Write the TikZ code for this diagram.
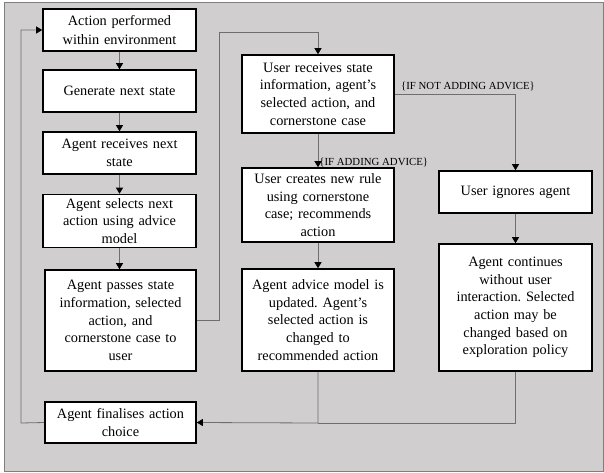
\documentclass[tikz,border=0pt]{standalone}
\usepackage{fontspec}
\setmainfont{Liberation Serif}
\usetikzlibrary{arrows.meta}
\definecolor{bggray}{RGB}{208,206,206}
\definecolor{bgline}{RGB}{127,127,127}
\definecolor{conngray}{RGB}{110,110,110}
\tikzset{
  stepbox/.style={draw=black, line width=1.6pt, fill=white, minimum width=153pt, text width=145pt,
    align=center, inner sep=0pt, font=\fontsize{14.3}{17.7}\selectfont\frenchspacing},
  widebox/.style={stepbox, font=\fontsize{14.3}{19}\selectfont\frenchspacing},
  conn/.style={draw=conngray, line width=0.8pt, -{Triangle[black,length=6pt,width=7pt]}},
  plain/.style={draw=conngray, line width=0.8pt},
  lbl/.style={font=\fontsize{10.8}{12}\selectfont, inner sep=0pt}
}
\begin{document}
\begin{tikzpicture}[x=1pt,y=-1pt]
\useasboundingbox (0,0) rectangle (604,473);
\fill[bggray] (4,3) rectangle (603,471);
\draw[bgline, line width=1pt] (4,3) rectangle (603,471);
% left column
\node[widebox, minimum height=41.5pt] (b1) at (119.5,30) {Action performed\\within environment};
\node[stepbox, minimum height=42pt] (b2) at (119.5,91) {Generate next state};
\node[stepbox, minimum height=42pt] (b3) at (119.5,153) {Agent receives next\\state};
\node[stepbox, minimum height=53pt] (b4) at (119.5,221) {Agent selects next\\action using advice\\model};
\node[stepbox, minimum height=101pt, minimum width=151pt] (b5) at (120.5,320.5) {Agent passes state\\information, selected\\action, and\\cornerstone case to\\user};
\node[stepbox, minimum height=41pt, minimum width=151pt] (b6) at (120.5,422.5) {Agent finalises action\\choice};
% middle column
\node[stepbox, minimum height=78pt, minimum width=152pt] (b7) at (318,94) {User receives state\\information, agent’s\\selected action, and\\cornerstone case};
\node[stepbox, minimum height=74pt, minimum width=152pt] (b8) at (318,205) {User creates new rule\\using cornerstone\\case; recommends\\action};
\node[stepbox, minimum height=102pt, minimum width=152pt] (b9) at (318,320) {Agent advice model is\\updated. Agent’s\\selected action is\\changed to\\recommended action};
% right column
\node[stepbox, minimum height=42pt] (b10) at (515.5,192) {User ignores agent};
\node[stepbox, minimum height=127pt] (b11) at (515.5,307.5) {Agent continues\\without user\\interaction. Selected\\action may be\\changed based on\\exploration policy};
% coordinates for routed connectors
\coordinate (loopL) at (21,423);
\coordinate (loopT) at (21,30);
\coordinate (up1) at (219,320);
\coordinate (up2) at (219,32);
\coordinate (up3) at (318,32);
\coordinate (join) at (318,423);
% connectors
\draw[conn] (b1) -- (b2);
\draw[conn] (b2) -- (b3);
\draw[conn] (b3) -- (b4);
\draw[conn] (b4.south) -- (b4.south |- b5.north);
\draw[conn] (b5.east |- up1) -- (up1) -- (up2) -- (up3) -- (b7.north);
\draw[conn] (b6.west) -- (loopL) -- (loopT) -- (b1.west);
\draw[conn] (b7) -- (b8) node[lbl, pos=0.87, anchor=west, xshift=1pt] {\{IF ADDING ADVICE\}};
\draw[conn] (b8) -- (b9);
\draw[conn] (b7.east) -| (b10.north) node[lbl, pos=0, anchor=south west, xshift=6pt, yshift=3pt] {\{IF NOT ADDING ADVICE\}};
\draw[conn] (b10) -- (b11);
\draw[conn] (b9.south) -- (join) -- (b6.east);
\draw[plain] (b11.south) |- (join);
\end{tikzpicture}
\end{document}
